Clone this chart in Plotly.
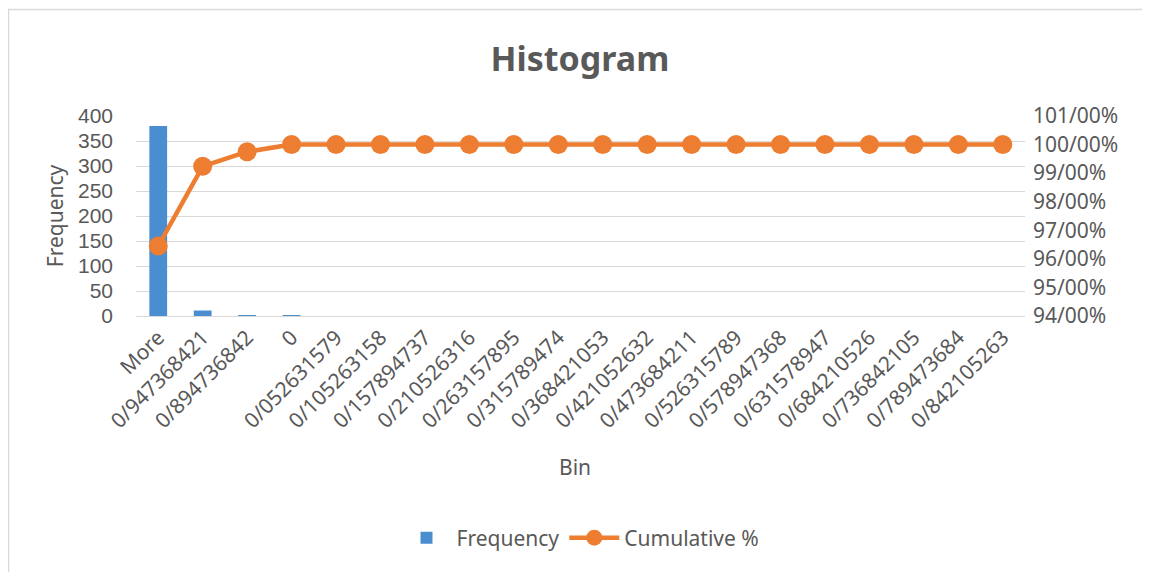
import plotly.graph_objects as go

bins = ["More", "0/947368421", "0/894736842", "0", "0/052631579", "0/105263158",
        "0/157894737", "0/210526316", "0/263157895", "0/315789474", "0/368421053",
        "0/421052632", "0/473684211", "0/526315789", "0/578947368", "0/631578947",
        "0/684210526", "0/736842105", "0/789473684", "0/842105263"]
frequency = [380, 11, 2, 1, 0, 0, 0, 0, 0, 0, 0, 0, 0, 0, 0, 0, 0, 0, 0, 0]
cumulative_pct = [96.45, 99.24, 99.75, 100, 100, 100, 100, 100, 100, 100,
                  100, 100, 100, 100, 100, 100, 100, 100, 100, 100]
left_ticks = [0, 50, 100, 150, 200, 250, 300, 350, 400]
right_ticks = [94, 95, 96, 97, 98, 99, 100, 101]
right_labels = ["94/00%", "95/00%", "96/00%", "97/00%", "98/00%", "99/00%", "100/00%", "101/00%"]

FONT = "Noto Sans"
GRAY = "#595959"

# page body has an 8px offset; plot area in figure coords
L, R, T, B = 128, 133, 108, 264
PW, PH = 1150 - L - R, 572 - T - B

fig = go.Figure()
fig.add_trace(go.Bar(x=bins, y=frequency, name="Frequency",
                     marker=dict(color="#4a8ed0", line=dict(width=0)),
                     yaxis="y"))
fig.add_trace(go.Scatter(x=bins, y=cumulative_pct, name="Cumulative %",
                         mode="lines+markers",
                         line=dict(color="#ED7D31", width=4.5),
                         marker=dict(color="#ED7D31", size=19),
                         yaxis="y2"))

fig.update_layout(
    width=1150, height=572,
    margin=dict(l=L, r=R, t=T, b=B, autoexpand=False),
    paper_bgcolor="white", plot_bgcolor="white",
    font=dict(family=FONT, color=GRAY, size=21),
    title=dict(text="<b>Histogram</b>", x=572 / 1150, xanchor="center",
               y=1 - 51 / 572, yanchor="middle", yref="container",
               font=dict(size=34, color=GRAY, family=FONT)),
    bargap=0.6,
    showlegend=True,
    legend=dict(orientation="h", x=0.5, xanchor="center", y=-1.11, yanchor="middle",
                font=dict(size=21, color=GRAY), traceorder="normal", itemwidth=50),
    xaxis=dict(tickangle=-45, tickfont=dict(size=21, color=GRAY), automargin=False,
               range=[-0.5, len(bins) - 0.5],
               showgrid=False, showline=True, linecolor="#d9d9d9", linewidth=1,
               ticks="", title=None),
    yaxis=dict(range=[0, 400], tickvals=left_ticks, showgrid=True, gridcolor="#d9d9d9",
               gridwidth=1.3, zeroline=False, showline=False, ticks="", automargin=False,
               ticklabelstandoff=22,
               tickfont=dict(size=21, color=GRAY, family="Liberation Sans"),
               title=dict(text="Frequency", standoff=8, font=dict(size=21, color=GRAY))),
    yaxis2=dict(range=[94, 101], tickvals=right_ticks, ticktext=right_labels,
                overlaying="y", side="right", showgrid=False, zeroline=False, automargin=False,
                ticklabelstandoff=7,
                showline=False, ticks="", tickfont=dict(size=21, color=GRAY)),
    annotations=[
        dict(text="Bin", xref="paper", yref="paper", x=(567 - L) / PW, y=-(459 - (T + PH)) / PH,
             showarrow=False, xanchor="center", yanchor="middle",
             font=dict(size=21, color=GRAY)),
    ],
    shapes=[
        dict(type="rect", xref="paper", yref="paper",
             x0=(0.5 - L) / PW, x1=(1300 - L) / PW,
             y0=-(800 - (T + PH)) / PH, y1=(T + PH - 1.5) / PH,
             line=dict(color="#d9d9d9", width=1.5), fillcolor="rgba(0,0,0,0)", layer="below"),
    ],
)

fig.write_html("out.html")
